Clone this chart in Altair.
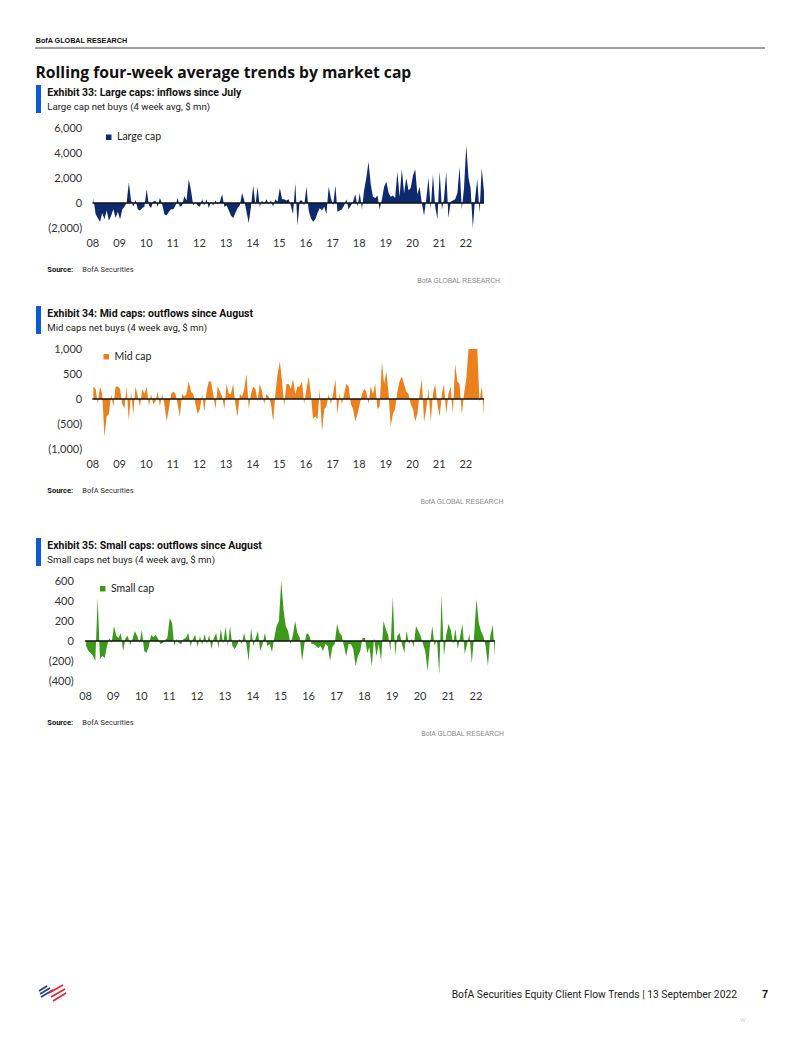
import altair as alt
import pandas as pd

YEARS = list(range(2008, 2023))

# Monthly readings ($ mn), Jan 2008 .. Sep 2022
large_cap = [
    400, -900, -1200, -1500, -800, -1300, -600, -1400, -1000, -500, -1200, -700,
    -1300, -500, -300, 0, 1650, 200, -300, 250, -500, -600, -400, -300,
    1100, -200, -400, 100, 200, -300, 400, -100, -900, -1000, -700, -500,
    -500, -200, 400, -300, -200, 550, 200, 1900, 1000, -200, 100, -200,
    -300, 300, -200, 300, -400, 100, -200, 200, -100, 100, 700, -300,
    -200, -600, -1000, -1200, -800, -400, -200, 800, 200, -700, -1600, -300,
    1400, -200, 1300, -300, 200, -100, 300, -100, 200, -300, 300, 100,
    1200, 300, 300, 200, 300, -200, -900, 1600, -1800, 200, 200, -200,
    1300, -600, -1200, -1500, -1300, -800, -400, -600, -300, -900, 1300, 400,
    -200, 1400, -700, -600, -500, -200, 300, -500, -200, 100, 700, -300,
    800, -500, 1000, 2000, 3300, 1500, 500, 400, 600, -500, 300, 1300,
    1700, 800, 500, 600, 400, 2500, 500, 2700, 800, 2000, 1000, 1200,
    2200, 2700, 700, 1300, 0, -1000, 300, 2000, -500, 2300, -300, -1300,
    2500, -500, 300, 2500, -1200, 100, 200, 300, 800, 2900, -500, 1200,
    4600, 2000, 1200, -2000, 300, 1900, -800, 2800, 900,
]
mid_cap = [
    250, 200, -100, 250, 100, -750, -350, -300, 100, -150, 250, 250,
    200, -100, -200, 250, -450, 150, -300, 250, 50, -150, 200, 100,
    250, -150, 100, -100, -50, 150, -150, 100, -100, -450, -200, 100,
    150, 100, -100, -350, 100, 50, 100, 350, 150, 100, -100, -300,
    -200, 100, -250, 150, 350, 350, 100, -200, 250, 150, 50, -200,
    300, 100, 100, 300, -100, -350, 100, 50, 200, 500, -200, 100,
    250, 200, -50, 300, 150, -100, 100, 50, -100, -450, 100, 500,
    750, 350, -150, 300, 300, 200, 400, 100, 250, 250, 350, -100,
    200, 450, 100, -400, -350, -400, 200, -650, -200, -150, 100, -100,
    100, 400, -300, 100, -100, 100, 300, 250, -100, -200, -450, -300,
    -100, 100, 200, 150, -100, 250, 100, 300, -200, -150, 750, 300,
    550, 100, -550, -300, -200, 150, 350, 450, 300, 150, 100, -100,
    -200, -450, -300, 100, 400, -450, -200, 200, -450, 100, 300, -100,
    -350, 100, 300, -300, 100, 250, -300, 700, 350, 300, -300, 100,
    400, 1000, 1000, 1000, 1000, 1000, -50, 250, -300,
]
small_cap = [
    -50, -100, -120, -150, -200, 430, -180, -150, -170, -50, 30, -20,
    150, 50, 30, 80, -100, 30, 50, -40, 20, 100, 50, -20,
    110, -100, -120, -60, 60, 40, 60, 20, -30, -20, 10, 30,
    230, 180, -50, 20, -20, -30, 20, 30, 80, -50, 20, 60,
    -60, 50, -40, 70, -30, 60, -80, 30, 80, -70, 120, -30,
    140, -50, 150, -50, -80, -40, 20, -30, 80, -30, -200, 130,
    -50, 30, 100, -100, -30, 80, -50, -30, -110, 30, 150, 200,
    600, 300, 150, 100, -30, 50, 200, 80, 30, -200, -20, 80,
    60, -30, -30, -50, -70, -50, -100, -30, -50, -200, -60, -30,
    170, 80, 60, -50, -150, -30, -30, -80, -250, -150, -100, 30,
    30, -120, -60, -250, 30, -150, -30, -200, 200, 120, 60, -100,
    440, -150, 50, 80, -30, -120, 100, -30, 20, -60, 150, 100,
    50, -30, -100, -300, -50, 150, -50, 20, -330, 460, -150, 60,
    170, 100, -30, 120, -80, 40, 170, -130, -30, 70, -220, 50,
    420, 180, 100, 50, -50, -250, 50, 160, -150,
]

large_ticks = [-2000, 0, 2000, 4000, 6000]
mid_ticks = [-1000, -500, 0, 500, 1000]
small_ticks = [-400, -200, 0, 200, 400, 600]

dates = pd.date_range("2008-01-01", periods=len(large_cap), freq="MS") + pd.Timedelta(days=14)
END = pd.Timestamp("2022-09-15")
START08 = pd.Timestamp("2008-01-01")

NAVY = "#0d2a6e"
ORANGE = "#ec801c"
GREEN = "#3b9a1a"
BLUE = "#0b5bd3"

NARROW = "Roboto, Lato, sans-serif"
SANS = "Liberation Sans, Arial, sans-serif"
TITLE = "Open Sans, Liberation Sans, sans-serif"
LABEL = "Lato, Liberation Sans, sans-serif"

one = pd.DataFrame({"k": [0]})


def text(t, x, y, size, font, weight="normal", color="#1a1a1a", align="left"):
    return alt.Chart(one).mark_text(
        text=t, fontSize=size, font=font, fontWeight=weight, color=color,
        align=align, baseline="alphabetic"
    ).encode(x=alt.value(x), y=alt.value(y))


def rect(x, x2, y, y2, color):
    return alt.Chart(one).mark_rect(color=color).encode(
        x=alt.value(x), x2=alt.value(x2), y=alt.value(y), y2=alt.value(y2))


def seg(x, y, x2, y2, color, w):
    return alt.Chart(one).mark_rule(color=color, strokeWidth=w, strokeCap="butt").encode(
        x=alt.value(x), y=alt.value(y), x2=alt.value(x2), y2=alt.value(y2))


def hline(x, x2, y, color, w):
    return alt.Chart(one).mark_rule(color=color, strokeWidth=w).encode(
        x=alt.value(x), x2=alt.value(x2), y=alt.value(y))


YEXPR = ("datum.value < 0 ? '(' + format(-datum.value, ',') + ')' : "
         "format(datum.value, ',') + '\u2008'")


def panel(vals, name, color, ydom, yticks, width, start, ypad, lx, ly,
          exhibit, subtitle, right_x, extra):
    df = pd.DataFrame({"date": dates, "value": vals, "series": name})
    zdf = pd.DataFrame({"date": [START08], "date_end": [END], "value": [0]})
    xs = alt.Scale(domain=[alt.DateTime(year=start.year, month=start.month, date=start.day),
                           alt.DateTime(year=END.year, month=END.month, date=END.day)])
    xaxis = alt.Axis(values=[alt.DateTime(year=y, month=1, date=1) for y in YEARS],
                     format="%y", title=None, ticks=False, domain=False, grid=False,
                     labelFont=LABEL, labelFontSize=11, labelColor="#333",
                     labelPadding=9, labelOverlap=False, labelFlush=False)
    ys = alt.Scale(domain=ydom, nice=False, zero=False)
    yaxis = alt.Axis(values=yticks, labelExpr=YEXPR, title=None, ticks=False,
                     domain=False, grid=False, labelFont=LABEL, labelFontSize=11,
                     labelColor="#333", labelPadding=ypad)
    area = alt.Chart(df).mark_area(interpolate="linear").encode(
        x=alt.X("date:T", scale=xs, axis=xaxis),
        y=alt.Y("value:Q", scale=ys, axis=yaxis),
        color=alt.Color("series:N", scale=alt.Scale(domain=[name], range=[color]),
                        legend=alt.Legend(title=None, orient="none", legendX=lx, legendY=ly,
                                          symbolType="square", symbolSize=30,
                                          symbolStrokeWidth=0, labelFont=LABEL,
                                          labelFontSize=10.5, labelColor="#222",
                                          labelOffset=3, padding=0)),
    )
    zero = alt.Chart(zdf).mark_rule(color="#111", strokeWidth=1.3).encode(
        x=alt.X("date:T", scale=xs, axis=xaxis),
        x2="date_end:T",
        y=alt.Y("value:Q", scale=ys, axis=yaxis),
    )
    notes = [
        rect(-49, -44, -43, -15, BLUE),
        text(exhibit, -37.7, -31.7, 10.5, NARROW, "bold", "#111"),
        text(subtitle, -37.7, -18.3, 9.6, NARROW, "normal", "#222"),
        text("Source:", -37.7, 144, 7.5, NARROW, "bold", "#111"),
        text("BofA Securities", -2.7, 144, 7.5, NARROW, "normal", "#333"),
        text("BofA GLOBAL RESEARCH", right_x, 155, 6.8, SANS, "normal", "#8a8a8a", "right"),
    ]
    return alt.layer(area, zero, *notes, *extra).properties(width=width, height=100)


def spacer(h):
    return alt.Chart(one).mark_rect(color="white", opacity=0).encode(
        x=alt.value(0), x2=alt.value(1), y=alt.value(0), y2=alt.value(1)
    ).properties(width=1, height=h)


extra1 = [
    rect(-77, -76, -120, -119, "white"),
    text("BofA GLOBAL RESEARCH", -49.3, -85.3, 7.2, SANS, "bold", "#111"),
    hline(-50, 680, -80, "#111", 0.8),
    text("Rolling four-week average trends by market cap", -49.5, -50.3, 15.7, TITLE, "bold", "#111"),
]
extra3 = [
    text("BofA Securities Equity Client Flow Trends | 13 September 2022", 652, 417, 10.3, NARROW,
         "normal", "#222", "right"),
    text("7", 677, 417, 11, SANS, "bold", "#111"),
    text("W", 655, 441, 6, SANS, "normal", "#cccccc"),
    seg(-46, 410, -38, 405, "#1f3f8f", 1.8),
    seg(-45, 413, -35, 407, "#1f3f8f", 1.8),
    seg(-44, 416, -32, 409, "#1f3f8f", 1.8),
    seg(-36, 412, -22, 404, "#e3262b", 1.8),
    seg(-34, 416, -20, 408, "#e3262b", 1.8),
    seg(-32, 420, -19, 412, "#e3262b", 1.8),
]

p1 = panel(large_cap, "Large cap", NAVY, [-2000, 6000], large_ticks, 399,
           pd.Timestamp("2007-09-22"), 3.3, 18.5, 4,
           "Exhibit 33: Large caps: inflows since July",
           "Large cap net buys (4 week avg, $ mn)", 415, extra1)
p2 = panel(mid_cap, "Mid cap", ORANGE, [-1000, 1000], mid_ticks, 399,
           pd.Timestamp("2007-09-22"), 3.3, 16, 2.5,
           "Exhibit 34: Mid caps: outflows  since August",
           "Mid caps net buys (4 week avg, $ mn)", 418.3, [])
p3 = panel(small_cap, "Small cap", GREEN, [-400, 600], small_ticks, 410,
           pd.Timestamp("2008-01-01"), 11.7, 12.5, 2.5,
           "Exhibit 35: Small caps: outflows since August",
           "Small caps net buys (4 week avg, $ mn)", 419, extra3)

chart = alt.vconcat(p1, spacer(121), p2, spacer(132), p3, spacing=0, bounds="flush").resolve_scale(
    color="independent"
).properties(
    padding=0, background="white"
).configure_view(stroke=None)

chart.save("out.html", embed_options={"renderer": "svg", "actions": False})
